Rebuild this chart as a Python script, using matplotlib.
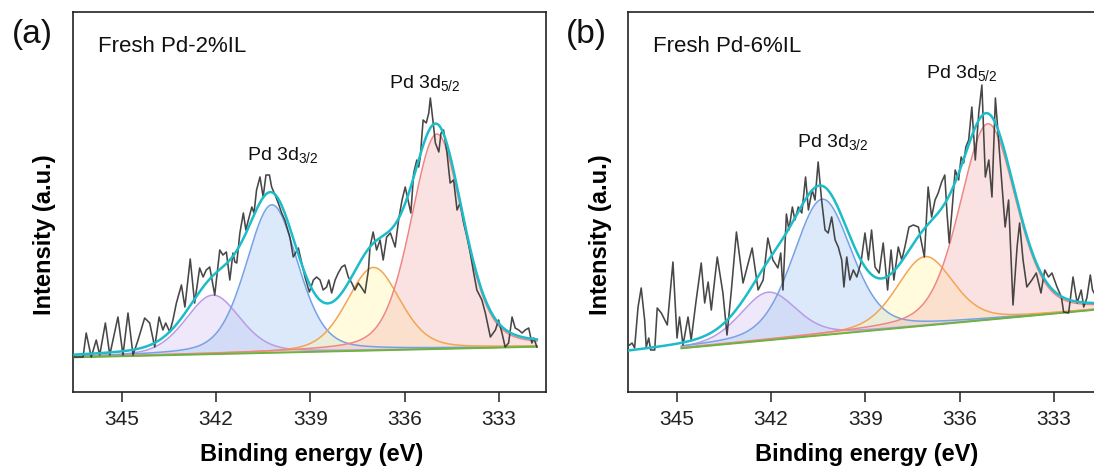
import numpy as np
import matplotlib
matplotlib.use('Agg')
import matplotlib.pyplot as plt

plt.rcParams['font.family'] = ['Liberation Sans', 'DejaVu Sans']
plt.rcParams['mathtext.default'] = 'regular'

# ---------------- data ----------------
# Panel (a) raw spectrum: binding energy (eV) and intensity (a.u.)
a_be = [346.50, 346.23, 346.13, 345.97, 345.81, 345.70, 345.52, 345.38, 345.12, 344.96,
        344.80, 344.64, 344.48, 344.27, 344.11, 343.95, 343.81, 343.69, 343.60, 343.47,
        343.37, 343.26, 343.10, 342.99, 342.82, 342.68, 342.52, 342.41, 342.31, 342.20,
        342.04, 341.88, 341.78, 341.67, 341.56, 341.46, 341.40, 341.34, 341.24, 341.13,
        341.05, 340.97, 340.86, 340.79, 340.71, 340.60, 340.50, 340.41, 340.30, 340.23,
        340.12, 340.02, 339.91, 339.81, 339.65, 339.54, 339.38, 339.27, 339.17, 339.03,
        338.90, 338.80, 338.69, 338.59, 338.48, 338.41, 338.32, 338.21, 338.11, 338.00,
        337.90, 337.79, 337.68, 337.58, 337.47, 337.36, 337.26, 337.15, 337.10, 337.00,
        336.89, 336.78, 336.68, 336.57, 336.45, 336.30, 336.19, 336.08, 335.98, 335.87,
        335.80, 335.71, 335.61, 335.55, 335.50, 335.41, 335.31, 335.23, 335.18, 335.10,
        335.02, 334.91, 334.84, 334.76, 334.65, 334.55, 334.44, 334.33, 334.23, 334.12,
        334.01, 333.91, 333.80, 333.70, 333.54, 333.43, 333.27, 333.11, 333.01, 332.90,
        332.80, 332.69, 332.58, 332.48, 332.37, 332.26, 332.16, 332.05, 331.95, 331.89,
        331.79]
a_int = [35, 35, 59, 35, 52, 37, 69, 37, 75, 37,
         79, 37, 52, 74, 69, 45, 75, 62, 69, 60,
         72, 89, 107, 85, 133, 89, 124, 115, 122, 125,
         97, 142, 137, 140, 112, 139, 130, 129, 159, 179,
         162, 172, 185, 179, 202, 215, 195, 217, 217, 205,
         197, 189, 179, 172, 155, 135, 144, 129, 115, 100,
         112, 115, 112, 102, 105, 112, 99, 112, 119, 125,
         127, 115, 109, 102, 109, 104, 99, 122, 145, 160,
         142, 152, 132, 155, 159, 145, 172, 192, 205, 189,
         179, 219, 232, 225, 235, 272, 269, 279, 294, 272,
         249, 240, 259, 262, 239, 209, 212, 182, 189, 169,
         155, 139, 119, 102, 92, 79, 55, 62, 72, 59,
         45, 49, 75, 64, 62, 59, 62, 64, 49, 54,
         45]

# Panel (b) raw spectrum
b_be = [346.50, 346.42, 346.34, 346.23, 346.13, 346.02, 345.97, 345.89, 345.83, 345.70,
        345.62, 345.49, 345.30, 345.12, 344.99, 344.91, 344.80, 344.64, 344.54, 344.38,
        344.22, 344.11, 344.00, 343.90, 343.71, 343.53, 343.40, 343.26, 343.10, 342.89,
        342.60, 342.41, 342.25, 342.10, 341.94, 341.78, 341.69, 341.62, 341.51, 341.43,
        341.32, 341.24, 341.13, 341.02, 340.90, 340.81, 340.69, 340.60, 340.50, 340.39,
        340.28, 340.18, 340.07, 339.96, 339.86, 339.75, 339.68, 339.59, 339.49, 339.38,
        339.27, 339.14, 339.01, 338.90, 338.80, 338.69, 338.56, 338.43, 338.29, 338.18,
        338.09, 337.95, 337.84, 337.74, 337.61, 337.47, 337.31, 337.12, 337.00, 336.89,
        336.78, 336.68, 336.57, 336.47, 336.40, 336.33, 336.24, 336.14, 336.03, 335.95,
        335.87, 335.80, 335.71, 335.61, 335.50, 335.39, 335.29, 335.18, 335.07, 334.97,
        334.86, 334.76, 334.65, 334.55, 334.44, 334.30, 334.17, 334.09, 333.98, 333.86,
        333.70, 333.56, 333.41, 333.29, 333.17, 333.06, 332.90, 332.76, 332.69, 332.53,
        332.39, 332.26, 332.13, 332.05, 331.95, 331.84, 331.77, 331.65, 331.55]
b_int = [47, 49, 44, 85, 104, 72, 45, 54, 42, 42,
         84, 79, 67, 130, 54, 75, 47, 75, 52, 92,
         129, 89, 110, 82, 135, 99, 57, 102, 160, 109,
         144, 102, 112, 154, 132, 124, 139, 102, 178, 162,
         185, 172, 185, 179, 215, 182, 202, 192, 230, 192,
         162, 159, 175, 152, 145, 132, 105, 135, 112, 122,
         115, 129, 159, 132, 162, 125, 119, 149, 102, 142,
         112, 145, 132, 145, 165, 167, 165, 135, 205, 175,
         192, 199, 210, 217, 179, 149, 182, 222, 212, 235,
         229, 245, 252, 285, 232, 279, 307, 215, 232, 195,
         294, 252, 205, 165, 192, 87, 145, 169, 132, 105,
         112, 119, 99, 122, 115, 119, 105, 95, 80, 79,
         115, 89, 102, 85, 94, 117, 102, 95, 110]

# Linear backgrounds: end points
a_base_be = [346.50, 331.79]
a_base_int = [34.7, 45.3]
b_base_be = [344.85, 331.50]
b_base_int = [43.7, 82.8]

# Fitted components (purple, blue, yellow, red): centre (eV), height, FWHM (eV)
comp_names = ['sat. 3d3/2', 'Pd 3d3/2', 'sat. 3d5/2', 'Pd 3d5/2']
a_center = [342.10, 340.22, 336.99, 334.97]
a_height = [59, 148, 83, 215]
a_fwhm = [2.05, 1.95, 2.00, 1.95]
b_center = [342.09, 340.37, 337.10, 335.10]
b_height = [48, 136, 69, 196]
b_fwhm = [2.10, 2.20, 2.10, 2.10]
gl_mix = 0.3  # Lorentzian fraction of the Gaussian-Lorentzian line shape

# ---------------- style ----------------
fill_cols = ['#d9c6f4', '#b6d1f5', '#fff5a8', '#f7bcbc']
edge_cols = ['#b99be6', '#75a2e4', '#f2a553', '#ef8686']
fill_alpha = [0.42, 0.48, 0.40, 0.42]
env_col = '#1cbcc8'
base_col = '#6db33f'
raw_col = '#333333'

def gl_shape(x, c, h, w, m):
    sig = w / 2.3548
    g = np.exp(-(x - c) ** 2 / (2 * sig ** 2))
    lz = 1.0 / (1.0 + ((x - c) / (w / 2.0)) ** 2)
    return h * ((1 - m) * g + m * lz)

fig = plt.figure(figsize=(10.94, 4.68), dpi=100)
W, H = 1094.0, 468.0

panels = [
    dict(left=73, be=a_be, it=a_int, bbe=a_base_be, bint=a_base_int,
         c=a_center, h=a_height, w=a_fwhm, title='Fresh Pd-2%IL', lab='(a)',
         labx=12, env_lo=346.50, env_hi=331.79,
         t32=(283, 155), t52=(425, 83)),
    dict(left=628, be=b_be, it=b_int, bbe=b_base_be, bint=b_base_int,
         c=b_center, h=b_height, w=b_fwhm, title='Fresh Pd-6%IL', lab='(b)',
         labx=566, env_lo=346.55, env_hi=331.50,
         t32=(833, 142), t52=(962, 73)),
]

xlo, xhi = 346.55, 331.50
axw = 473.0
for p in panels:
    ax = fig.add_axes([p['left'] / W, 1 - 392 / H, axw / W, 380 / H])
    ax.set_xlim(xlo, xhi)
    ax.set_ylim(0, 380)

    slope = (p['bint'][1] - p['bint'][0]) / (p['bbe'][1] - p['bbe'][0])
    xb = np.linspace(p['bbe'][0], p['bbe'][1], 800)
    base = p['bint'][0] + slope * (xb - p['bbe'][0])
    for i in range(4):
        comp = gl_shape(xb, p['c'][i], p['h'][i], p['w'][i], gl_mix)
        ax.fill_between(xb, base, base + comp, color=fill_cols[i],
                        alpha=fill_alpha[i], lw=0, zorder=1 + i * 0.1)
        ax.plot(xb, base + comp, color=edge_cols[i], lw=1.1, zorder=2 + i * 0.1)
    ax.plot(xb, base, color=base_col, lw=1.4, zorder=3)

    # raw data
    ax.plot(p['be'], p['it'], color=raw_col, lw=1.15, alpha=0.9, zorder=4)

    # envelope
    xe = np.linspace(p['env_lo'], p['env_hi'], 1000)
    be_e = p['bint'][0] + slope * (xe - p['bbe'][0])
    env = be_e.copy()
    for i in range(4):
        env += gl_shape(xe, p['c'][i], p['h'][i], p['w'][i], gl_mix)
    ax.plot(xe, env, color=env_col, lw=1.8, zorder=5)

    # axes styling
    ax.set_xticks([345, 342, 339, 336, 333])
    ax.set_yticks([])
    ax.tick_params(axis='x', direction='out', length=7, width=1.1,
                   labelsize=15, pad=6, colors='#222222')
    for s in ax.spines.values():
        s.set_linewidth(1.2)
        s.set_color('#222222')
    ax.set_xlabel('Binding energy (eV)', fontsize=17, fontweight='bold')
    ax.xaxis.set_label_coords(0.505, -(455 - 392) / 380.0)
    ax.xaxis.label.set_va('center')
    ax.set_ylabel('Intensity (a.u.)', fontsize=17, fontweight='bold')
    ax.yaxis.set_label_coords(-28 / axw, (392 - 235) / 380.0)
    ax.yaxis.label.set_va('center')

    # texts
    fig.text((p['left'] + 25) / W, 1 - 47 / H, p['title'], fontsize=16,
             ha='left', va='center', color='#111111')
    fig.text(p['t32'][0] / W, 1 - p['t32'][1] / H, 'Pd 3d$_{3/2}$', fontsize=14,
             ha='center', va='center', color='#111111')
    fig.text(p['t52'][0] / W, 1 - p['t52'][1] / H, 'Pd 3d$_{5/2}$', fontsize=14,
             ha='center', va='center', color='#111111')
    fig.text(p['labx'] / W, 1 - 35 / H, p['lab'], fontsize=24,
             ha='left', va='center', color='#111111')

fig.savefig('out.png', dpi=100)
